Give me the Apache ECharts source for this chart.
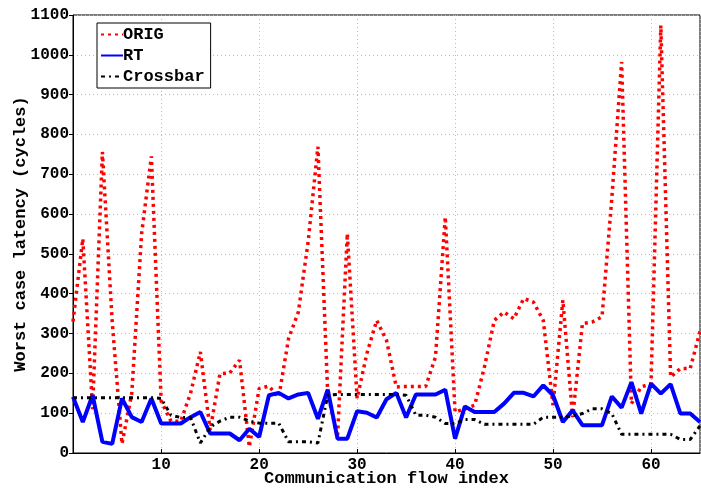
<!DOCTYPE html>
<html>
<head>
<meta charset="utf-8">
<script src="https://cdn.jsdelivr.net/npm/echarts@6/dist/echarts.min.js"></script>
<style>
  html, body { margin: 0; padding: 0; background: #fff; }
  #chart { width: 701px; height: 488px; }
</style>
</head>
<body>
<div id="chart"></div>
<script>
// flow index 1..65
const flows = Array.from({ length: 65 }, (_, i) => i + 1)

const orig = [330, 538, 110, 756, 330, 23, 150, 550, 745, 130,
  80, 80, 150, 254, 57, 199, 201, 233, 15, 162,
  168, 140, 287, 354, 530, 769, 150, 40, 551, 137,
  250, 333, 283, 166, 167, 167, 167, 241, 593, 103,
  111, 120, 216, 333, 354, 337, 388, 379, 333, 120,
  384, 90, 325, 329, 342, 640, 982, 124, 166, 174,
  1074, 191, 212, 212, 305]

const rt = [141, 78, 145, 28, 23, 137, 90, 78, 137, 74,
  74, 74, 90, 103, 49, 49, 49, 32, 61, 40,
  145, 151, 137, 147, 151, 86, 159, 36, 36, 105,
  101, 89, 135, 151, 89, 147, 147, 147, 159, 36,
  117, 103, 103, 103, 124, 151, 151, 142, 170, 145,
  78, 107, 70, 70, 70, 142, 114, 178, 99, 174,
  149, 173, 99, 99, 78]

const crossbar = [139, 139, 139, 139, 139, 139, 139, 139, 139, 137,
  95, 89, 89, 25, 65, 80, 90, 90, 80, 75,
  75, 75, 28, 28, 28, 25, 145, 147, 147, 147,
  147, 147, 147, 147, 145, 95, 95, 90, 74, 74,
  84, 84, 72, 72, 72, 72, 72, 72, 90, 90,
  90, 93, 99, 111, 111, 99, 47, 47, 47, 47,
  47, 47, 34, 34, 68]

const pair = arr => arr.map((v, i) => [flows[i], v])

const font = 'Liberation Mono'
const chart = echarts.init(document.getElementById('chart'))
chart.setOption({
  animation: false,
  grid: {
    left: 73,
    right: 1,
    top: 15,
    bottom: 35,
    outerBoundsMode: 'none',
    containLabel: false,
    show: true,
    borderColor: '#000',
    borderWidth: 1
  },
  legend: {
    left: 97,
    top: 23,
    orient: 'vertical',
    itemWidth: 22,
    itemHeight: 10,
    itemGap: 4,
    padding: [3, 6, 3, 3],
    borderColor: '#000',
    borderWidth: 1,
    backgroundColor: '#fff',
    itemStyle: { opacity: 0 },
    textStyle: {
      fontFamily: font, fontWeight: 'bold', fontSize: 17, lineHeight: 17,
      color: '#000', padding: [0, 0, 0, -5]
    },
    data: ['ORIG', 'RT', 'Crossbar']
  },
  xAxis: {
    type: 'value',
    min: 1,
    max: 65,
    splitNumber: 6,
    name: 'Communication flow index',
    nameLocation: 'middle',
    nameGap: 17,
    nameMoveOverlap: false,
    nameTextStyle: { fontFamily: font, fontWeight: 'bold', fontSize: 17, color: '#000' },
    axisLine: { lineStyle: { color: '#000', width: 1 } },
    axisTick: { inside: true, length: 4, lineStyle: { color: '#000' } },
    axisLabel: {
      fontFamily: font, fontWeight: 'bold', fontSize: 16, color: '#000', margin: 4,
      showMinLabel: false, showMaxLabel: false
    },
    splitLine: { show: true, lineStyle: { color: '#bbb', type: [1, 3] } }
  },
  yAxis: {
    type: 'value',
    min: 0,
    max: 1100,
    interval: 100,
    name: 'Worst case latency (cycles)',
    nameLocation: 'middle',
    nameGap: 44,
    nameMoveOverlap: false,
    nameTextStyle: { fontFamily: font, fontWeight: 'bold', fontSize: 17, color: '#000' },
    axisLine: { show: true, lineStyle: { color: '#000', width: 1 } },
    axisTick: { show: true, length: 4, lineStyle: { color: '#000' } },
    axisLabel: {
      fontFamily: font, fontWeight: 'bold', fontSize: 16, color: '#000', margin: 4,
      formatter: v => String(v)
    },
    splitLine: { show: true, lineStyle: { color: '#bbb', type: [1, 3] } }
  },
  series: [
    {
      name: 'ORIG',
      type: 'line',
      data: pair(orig),
      symbol: 'none',
      color: '#ff0000',
      lineStyle: { color: '#ff0000', width: 3.5, type: [3, 4], cap: 'butt' }
    },
    {
      name: 'RT',
      type: 'line',
      data: pair(rt),
      symbol: 'none',
      color: '#0000ff',
      lineStyle: { color: '#0000ff', width: 4 }
    },
    {
      name: 'Crossbar',
      type: 'line',
      data: pair(crossbar),
      symbol: 'none',
      color: '#000',
      lineStyle: { color: '#000', width: 3, type: [4, 4, 2, 4], cap: 'butt' }
    }
  ]
})
</script>
</body>
</html>
